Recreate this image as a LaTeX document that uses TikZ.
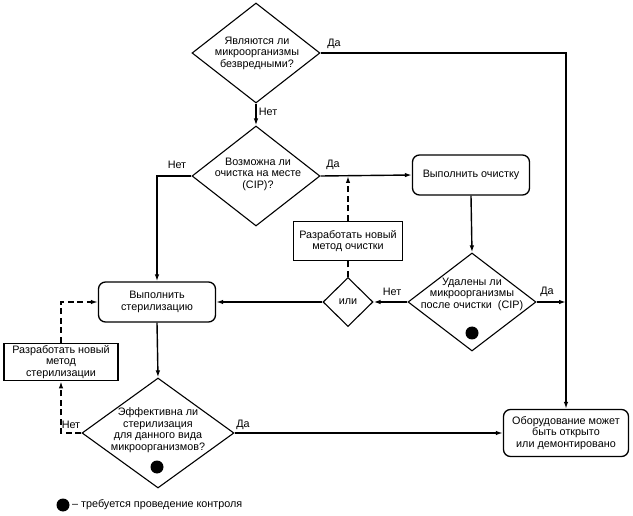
\documentclass[tikz,border=0pt]{standalone}
\usepackage{fontspec}
\setmainfont{Liberation Sans}
\usetikzlibrary{shapes.geometric, arrows.meta}

\tikzset{
    txt/.style={font=\fontsize{10.8}{11.5}\selectfont, align=center, inner sep=0pt},
    decision/.style={diamond, draw, line width=1.1pt, inner sep=0pt},
    action/.style={txt, rectangle, rounded corners=7pt, draw, line width=1.3pt},
    newmethod/.style={txt, rectangle, draw, line width=1.7pt},
    flow/.style={line width=1.4pt, -{Latex[length=7pt,width=4.5pt]}},
    redo/.style={flow, dash pattern=on 6pt off 3.5pt},
    check/.style={circle, fill, minimum size=13pt, inner sep=0pt},
}

\begin{document}
\begin{tikzpicture}[x=1pt,y=-1pt]
    \useasboundingbox (0,0) rectangle (633,516);

    % decisions
    \node[decision, minimum width=128, minimum height=100] (harmless) at (256,53) {};
    \node[txt] (harmless-q) at (257,53) {Являются ли\\микроорганизмы\\безвредными?};
    \node[decision, minimum width=128, minimum height=100] (cip) at (256,176) {};
    \node[txt] (cip-q) at (258,174) {Возможна ли\\очистка на месте\\(CIP)?};
    \node[decision, minimum width=128, minimum height=98] (removed) at (472,302) {};
    \node[txt] (removed-q) at (472,294) {Удалены ли\\микроорганизмы\\после очистки\ \ (CIP)};
    \node[check] (removed-dot) at (472,333) {};
    \node[decision, minimum width=50, minimum height=49] (or) at (348,302) {};
    \node[txt] (or-q) at (348,302) {или};
    \node[decision, minimum width=152, minimum height=110] (effective) at (158,433) {};
    \node[txt] (effective-q) at (158,430) {Эффективна ли\\стерилизация\\для данного вида\\микроорганизмов?};
    \node[check] (effective-dot) at (157,467) {};

    % actions
    \node[action, minimum width=117, minimum height=40] (clean) at (471,175) {Выполнить очистку};
    \node[action, minimum width=117, minimum height=40] (steril) at (157,302) {Выполнить\\стерилизацию};
    \node[action, minimum width=125, minimum height=47] (equip) at (566,433) {Оборудование может\\быть открыто\\или демонтировано};
    \node[newmethod, minimum width=109, minimum height=39] (newclean) at (348,241) {Разработать новый\\метод очистки};
    \node[newmethod, minimum width=114, minimum height=37] (newster) at (61,362) {Разработать новый\\метод\\стерилизации};

    % connectors
    \draw[flow] (harmless.south) -- (cip.north);
    \draw[flow] (harmless.east) -| (equip.north);
    \draw[flow] (cip.east) -- (clean.west);
    \draw[flow] (cip.west) -| (steril.north);
    \draw[flow] (clean.south) -- (removed.north);
    \coordinate (rail) at (removed.east -| equip.north);
    \draw[flow] (removed.east) -- (rail);
    \draw[flow] (removed.west) -- (or.east);
    \draw[flow] (or.west) -- (steril.east);
    \draw[flow] (steril.south) -- (effective.north);
    \draw[flow] (effective.east) -- (equip.west);
    \draw[redo, -] (or.north) -- (newclean.south);
    \coordinate (join) at (newclean.north |- cip.east);
    \draw[redo] (newclean.north) -- (join);
    \draw[redo] (effective.west) -| (newster.south);
    \draw[redo] (newster.north) |- (steril.west);

    % labels
    \node[txt] (yes1) at (334,44) {Да};
    \node[txt] (no1) at (268,112) {Нет};
    \node[txt] (yes2) at (333,165) {Да};
    \node[txt] (no2) at (177,165) {Нет};
    \node[txt] (yes3) at (547,292) {Да};
    \node[txt] (no3) at (392,292) {Нет};
    \node[txt] (no4) at (71,425) {Нет};
    \node[txt] (yes4) at (243,425) {Да};

    % legend
    \node[check] (key-dot) at (63,505) {};
    \node[txt, anchor=west] (key) at (72,505) {-- требуется проведение контроля};
\end{tikzpicture}
\end{document}
